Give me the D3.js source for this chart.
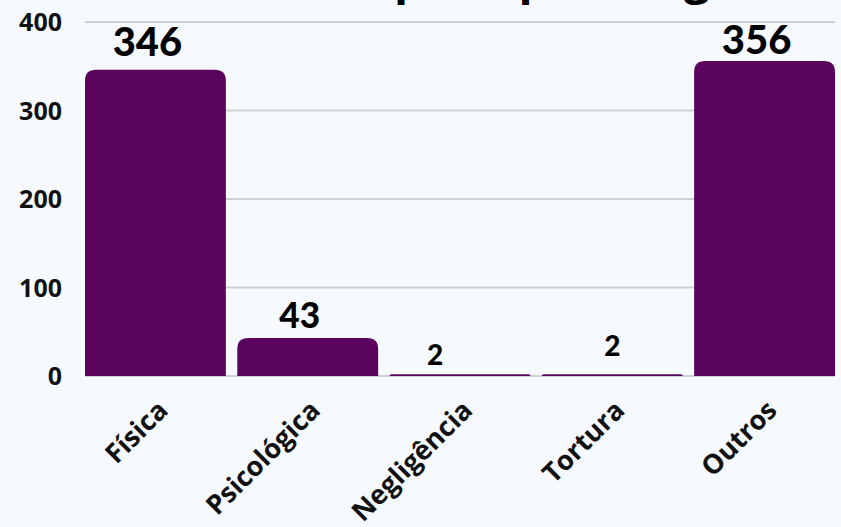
<!DOCTYPE html>
<html><head><meta charset="utf-8">
<script src="https://cdn.jsdelivr.net/npm/d3@7"></script>
<style>
html,body{margin:0;padding:0;background:#f6faff;}
svg{display:block;}
</style></head>
<body>
<svg id="chart" width="841" height="527"></svg>
<script>
const title = "Violência por tipo de agressão";
const categories = ["Física","Psicológica","Negligência","Tortura","Outros"];
const values = [346, 43, 2, 2, 356];
const yTicks = [0, 100, 200, 300, 400];
// layout nudges for value labels (px)
const labelNudgeX = [-8, -8, -25, 0, -8];
const labelNudgeY = [0, 3, 3, -6, 7];

const W = 841, H = 527;
const margin = {left: 85, right: 6, top: 22, bottom: 151};
const svg = d3.select("#chart");
svg.append("rect").attr("width", W).attr("height", H).attr("fill", "#f6faff");

const x = d3.scaleBand().domain(categories).range([margin.left, W - margin.right]).paddingInner(0.075).paddingOuter(0);
const y = d3.scaleLinear().domain([0, 400]).range([H - margin.bottom, margin.top]);
const fs = d3.scaleLog().domain([2, 356]).range([28, 40]);

// gridlines
svg.append("g").selectAll("line").data(yTicks).join("line")
  .attr("x1", margin.left).attr("x2", W - margin.right)
  .attr("y1", d => y(d)).attr("y2", d => y(d))
  .attr("stroke", "#cdd1d5").attr("stroke-width", 2);

// y axis labels
const yAxis = d3.axisLeft(y).tickValues(yTicks).tickSize(0).tickPadding(0).tickFormat(d3.format("d"));
const yg = svg.append("g").attr("transform", `translate(${62},0)`).call(yAxis);
yg.select(".domain").remove();
yg.selectAll("text").attr("font-family", "'Open Sans', sans-serif").attr("font-weight", 700)
  .attr("font-size", 25).attr("fill", "#111").attr("dy", "0.34em");

// bars with rounded tops
function barPath(x0, w, yTop, yBase, r) {
  const h = yBase - yTop;
  r = Math.min(r, h, w / 2);
  return `M${x0},${yBase}V${yTop + r}Q${x0},${yTop} ${x0 + r},${yTop}H${x0 + w - r}Q${x0 + w},${yTop} ${x0 + w},${yTop + r}V${yBase}Z`;
}
svg.append("g").selectAll("path").data(values).join("path")
  .attr("d", (d, i) => barPath(x(categories[i]), x.bandwidth(), y(d), y(0), 11))
  .attr("fill", "#5a045e");

// value labels
svg.append("g").selectAll("text").data(values).join("text")
  .attr("x", (d, i) => x(categories[i]) + x.bandwidth() / 2 + labelNudgeX[i])
  .attr("y", (d, i) => y(d) - 14 + labelNudgeY[i] + (40 - fs(d)) * 0.15)
  .attr("text-anchor", "middle")
  .attr("font-family", "Lato, sans-serif").attr("font-weight", 900)
  .attr("font-size", d => fs(d)).attr("fill", "#000")
  .text(d => d);

// category labels
const xAxis = d3.axisBottom(x).tickSize(0).tickPadding(0);
const xg = svg.append("g").attr("transform", `translate(0,${y(0)})`).call(xAxis);
xg.select(".domain").remove();
xg.selectAll("text")
  .attr("font-family", "'Open Sans', sans-serif").attr("font-weight", 700)
  .attr("font-size", 27).attr("fill", "#111")
  .attr("text-anchor", "end").attr("dy", null).attr("y", 0)
  .attr("transform", "translate(14,36) rotate(-45)");

// title (mostly above the viewport, as in the reference)
const t = svg.append("text")
  .attr("font-family", "'Open Sans', sans-serif").attr("font-weight", 700)
  .attr("font-size", 46).attr("fill", "#000").attr("y", -6).attr("x", 0)
  .text(title);
const pIdx = title.indexOf("p");
const off = t.node().getSubStringLength(0, pIdx);
t.attr("x", 394 - off);
</script>
</body></html>
